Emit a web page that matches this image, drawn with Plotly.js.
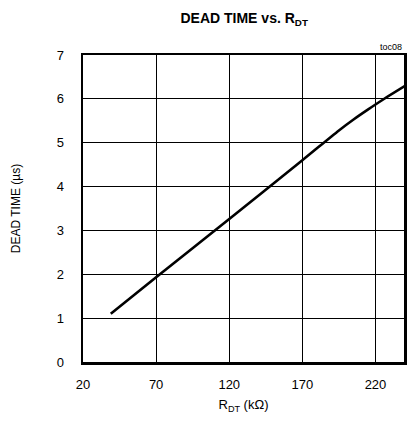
<!DOCTYPE html>
<html>
<head>
<meta charset="utf-8">
<script src="https://cdn.plot.ly/plotly-3.0.1.min.js"></script>
<style>html,body{margin:0;padding:0;background:#fff;}#chart{width:409px;height:424px;}</style>
</head>
<body>
<div id="chart"></div>
<script>
const rdt = [39, 70, 120, 170, 195, 205, 215, 225, 240];
const deadTime = [1.1, 1.93, 3.26, 4.6, 5.28, 5.53, 5.76, 5.98, 6.29];
const xTicks = [20, 70, 120, 170, 220];
const yTicks = [0, 1, 2, 3, 4, 5, 6, 7];

const font = "'Liberation Sans', Arial, sans-serif";

Plotly.newPlot('chart', [{
  x: rdt, y: deadTime, type: 'scatter', mode: 'lines',
  line: {color: '#000', width: 2.6, shape: 'spline', smoothing: 0.8},
  hoverinfo: 'skip'
}], {
  width: 409, height: 424,
  margin: {l: 83, r: 5, t: 55, b: 62},
  paper_bgcolor: '#fff', plot_bgcolor: '#fff',
  showlegend: false,
  font: {family: font, color: '#000', size: 13},
  title: {text: '<b>DEAD TIME vs. R<sub>DT</sub></b>', x: 0.597, xanchor: 'center', y: 0.957, yanchor: 'middle', font: {size: 14, family: font}},
  xaxis: {
    range: [20, 239.5], tickvals: xTicks, ticktext: xTicks.map(String),
    showgrid: true, gridcolor: '#000', gridwidth: 1,
    showline: true, linecolor: '#000', linewidth: 2.5, mirror: true,
    zeroline: false, ticks: '', ticklabelstandoff: 9,
    tickfont: {size: 13, family: font},
    title: {text: 'R<sub>DT</sub> (kΩ)', standoff: 9, font: {size: 13, family: font}}
  },
  yaxis: {
    range: [0, 7], tickvals: yTicks, ticktext: yTicks.map(String),
    showgrid: true, gridcolor: '#000', gridwidth: 1,
    showline: true, linecolor: '#000', linewidth: 2.5, mirror: true,
    zeroline: false, ticks: '', ticklabelstandoff: 14,
    tickfont: {size: 13, family: font},
    title: {text: 'DEAD TIME (µs)', standoff: 34, font: {size: 12, family: font}}
  },
  annotations: [{
    text: 'toc08', xref: 'paper', yref: 'paper', x: 1, y: 1, xanchor: 'right', yanchor: 'bottom',
    yshift: 1, showarrow: false, font: {size: 9, family: font, color: '#000'}
  }]
}, {staticPlot: true, displayModeBar: false});
</script>
</body>
</html>
